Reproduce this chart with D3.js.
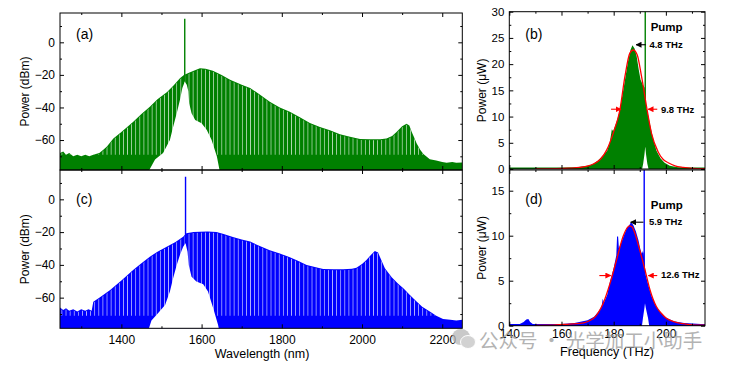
<!DOCTYPE html>
<html>
<head>
<meta charset="utf-8">
<script src="https://cdn.jsdelivr.net/npm/d3@7"></script>
<style>
body { margin: 0; background: #fff; }
text { font-family: "Liberation Sans", Arial, sans-serif; }
</style>
</head>
<body>
<script>
// ---- data ----
// (a) comb spectrum, upper envelope [wavelength nm, dBm]
var specA = [[1247,-68],[1255,-67],[1262,-69],[1270,-68],[1280,-70],[1290,-69],[1300,-70],[1310,-69],[1320,-70],[1330,-69],
  [1345,-68],[1355,-66],[1364,-64],[1380,-59],[1400,-55],[1429,-49],[1450,-44],[1471,-39.5],[1490,-35],[1514,-30.5],
  [1530,-26.5],[1546,-22],[1556,-20],[1570,-18.5],[1585,-17],[1596,-16],[1610,-16.3],[1628,-17.4],[1650,-20],[1671,-23],
  [1700,-26],[1721,-28],[1745,-32],[1770,-36.5],[1795,-40],[1820,-42.6],[1845,-46],[1870,-49.5],[1895,-52],[1920,-54],
  [1945,-56.5],[1970,-58],[1995,-59.3],[2020,-59.5],[2045,-59.5],[2061,-59],[2075,-57.5],[2086,-55],[2100,-51.5],[2111,-50],
  [2118,-51],[2124,-55],[2130,-58.5],[2136,-62],[2145,-66],[2153,-68.5],[2169,-71.8],[2185,-72.5],[2200,-73.5],[2211,-74],
  [2225,-73.5],[2235,-74],[2250,-73.8]];
// (a) lower edge of the comb near the pump (white region below it)
var holeA = [[1466,-80],[1484,-72],[1504,-68],[1521,-60],[1529,-52],[1538,-43.6],[1546,-35.4],[1552,-28],[1558,-24.2],
  [1563,-26],[1567,-30],[1569,-37.4],[1575,-43.6],[1584,-47.7],[1600,-49.7],[1613,-53.8],[1625,-60],[1638,-70],[1646,-80]];
var pumpA = [1558, -24, 14.5];

// (c)
var specC = [[1247,-66],[1255,-67.5],[1262,-66.5],[1270,-68],[1280,-67],[1290,-68.5],[1300,-67],[1310,-68],[1318,-67],[1326,-68],
  [1330,-62.5],[1345,-60],[1372,-55.3],[1400,-49.5],[1430,-43],[1450,-39],[1471,-35],[1490,-32],[1513,-29],[1535,-26],
  [1554,-22.8],[1562,-20.7],[1580,-20],[1596,-19.8],[1615,-19.6],[1637,-20],[1655,-21.2],[1678,-23],[1700,-24.5],[1721,-25.8],
  [1745,-28.5],[1770,-31],[1795,-33],[1820,-35.4],[1840,-37.5],[1862,-40],[1885,-41.5],[1903,-42.5],[1930,-42.7],[1953,-42.7],
  [1975,-42.3],[1986,-41.7],[2000,-39.5],[2011,-37],[2022,-34],[2032,-31.5],[2040,-32.5],[2045,-35.4],[2057,-42],[2074,-47.6],
  [2090,-51.5],[2103,-54.3],[2120,-58.5],[2136,-62.4],[2150,-65.5],[2169,-68.5],[2185,-71],[2202,-73],[2220,-73.5],[2235,-74],
  [2250,-73.5]];
var holeC = [[1467,-80],[1475,-74],[1488,-70.5],[1509,-64.5],[1521,-56.3],[1529,-48.2],[1538,-40],[1546,-34],[1554,-29],
  [1560,-26.8],[1565,-32],[1568,-40],[1575,-47.2],[1587,-50.2],[1604,-51.8],[1616,-56.3],[1629,-66.5],[1641,-76.6],[1644,-80]];
var pumpC = [1560, -26.8, 13.8];

// (b) spectrum [THz, uW], fit curve, notch at pump
var specB = [[140,0.15],[150,0.15],[160,0.2],[165,0.3],[170,0.6],[172,0.9],[174,1.6],[176,2.6],[177.5,3.5],[178.5,5],
  [179.3,7.6],[179.8,7.2],[181,8.8],[182.3,11],[183.5,14.5],[184.5,17.5],[185.5,20.5],[186.5,22.8],[187.2,23.6],[188,23],
  [188.8,21.5],[189.6,19],[190.3,17],[191.2,16],[191.9,15.5],[192.3,12.3],[193,10.8],[193.9,8.6],[195,6],[196.4,3.5],
  [198,2],[199.5,1.2],[201.5,0.6],[205,0.3],[210,0.2],[215,0.15]];
var fitB = [[150,0.02],[158,0.06],[163,0.15],[167.1,0.3],[172.2,0.95],[175,1.9],[177.3,3.6],[179.8,6.8],[182.4,11.3],
  [184.3,17.6],[186.2,22.1],[187.5,22.7],[189,21.8],[190.7,17.6],[192.6,11.9],[194.5,6.8],[197,3.3],[199,1.8],[200.9,1.2],
  [203.5,0.6],[206.6,0.3],[210,0.12],[215,0.05]];
var holeB = [[190.5,-1],[191.3,1],[191.8,2.8],[192.1,4.3],[192.4,2.8],[192.9,1],[193.8,-1]];
var pumpB = [192.1, 4.3, 31];

// (d)
var specD = [[140,0.15],[144,0.2],[145.5,0.4],[146.5,0.7],[147.3,0.75],[148,0.4],[149,0.2],[155,0.15],[160,0.2],[165,0.3],
  [170,0.6],[172.5,1],[174.5,1.7],[175.4,2.2],[175.8,3],[176.3,2.6],[177.5,3.4],[178.6,4.9],[180,6.4],[181,7.8],[181.3,9.9],
  [181.7,9.9],[182,8.6],[183,9.3],[184,10.1],[185,10.8],[186,11.2],[186.7,11.5],[187.5,11.2],[188.5,10.5],[189.5,9.5],
  [190.3,8.4],[190.8,8],[191.2,8.3],[191.5,8],[192.3,5.6],[193.3,4.5],[194.5,3.3],[196,2.3],[198,1.4],[200,0.9],[203,0.5],
  [207,0.3],[215,0.15]];
var fitD = [[150,0.03],[158,0.08],[163,0.18],[167.1,0.25],[172.2,0.8],[174,1.4],[176,2.5],[178.6,4.7],[181.1,7.3],[183.6,9.9],
  [185,10.8],[186,11.1],[187,11],[188.1,10.3],[190,8.4],[192,6.2],[193.9,4],[196.4,2.1],[198.5,1.3],[200.3,0.8],[203,0.45],
  [206.6,0.22],[210,0.1],[215,0.05]];
var holeD = [[190.4,-1],[191.2,0.8],[191.8,2],[192,2.5],[192.3,2],[193.2,0.8],[194.1,-1]];
var pumpD = [191.7, 2.5, 18];

// ticks
var wlTicks = [1400,1600,1800,2000,2200], wlMinor = [1300,1500,1700,1900,2100];
var dbmTicks = [-60,-40,-20,0], dbmMinor = [-70,-50,-30,-10,10];
var thzTicks = [140,160,180,200], thzMinor = [150,170,190,210];
var uwTicksB = [0,5,10,15,20,25,30], uwMinorB = [2.5,7.5,12.5,17.5,22.5,27.5];
var uwTicksD = [0,5,10,15], uwMinorD = [2.5,7.5,12.5];

var width = 731, height = 371;
var svg = d3.select("body").append("svg")
    .attr("width", width)
    .attr("height", height);

var defs = svg.append("defs");
// thin white gaps between comb lines
var pat = defs.append("pattern")
    .attr("id", "stripes")
    .attr("patternUnits", "userSpaceOnUse")
    .attr("width", 4.1).attr("height", 20);
pat.append("rect").attr("x", 0).attr("y", 0).attr("width", 0.8).attr("height", 20)
    .attr("fill", "#fff").attr("opacity", 0.7);

function marker(id, color) {
    defs.append("marker")
        .attr("id", id)
        .attr("viewBox", "0 0 10 10")
        .attr("refX", 9).attr("refY", 5)
        .attr("markerWidth", 6).attr("markerHeight", 6)
        .attr("markerUnits", "userSpaceOnUse")
        .attr("orient", "auto")
      .append("path").attr("d", "M0,0L10,5L0,10z").attr("fill", color);
}
marker("headK", "#000");
marker("headR", "#f00");

// scales
var xWl = d3.scaleLinear().domain([1247, 2250]).range([60, 462.3]);
var yA = d3.scaleLinear().domain([-78.4, 18]).range([170, 13]);
var yC = d3.scaleLinear().domain([-78.7, 17.9]).range([328.3, 170]);
var xF = d3.scaleLinear().domain([140, 215]).range([509.3, 705]);
var yB = d3.scaleLinear().domain([0, 30]).range([169, 11.7]);
var yD = d3.scaleLinear().domain([0, 17.3]).range([325.7, 170]);

var clipN = 0;

function panel(o) {
    var x = o.x, y = o.y;
    var x0 = x.range()[0], x1 = x.range()[1], yb = y.range()[0], yt = y.range()[1];
    var id = "clip" + (clipN++);
    defs.append("clipPath").attr("id", id)
      .append("rect").attr("x", x0).attr("y", yt).attr("width", x1 - x0).attr("height", yb - yt);
    var g = svg.append("g").attr("clip-path", "url(#" + id + ")");

    // spectrum fill
    g.append("path").datum(o.spec)
        .attr("d", d3.area().x(function(d){ return x(d[0]); }).y0(yb + 2).y1(function(d){ return y(d[1]); }))
        .attr("fill", o.color);
    // baseline of the trace
    if (o.baseline) {
        g.append("line").attr("x1", x0).attr("x2", x1).attr("y1", yb - 0.8).attr("y2", yb - 0.8)
            .attr("stroke", o.color).attr("stroke-width", 1.6);
    }
    // comb line texture
    if (o.stripeLow != null) {
        g.append("path").datum(o.spec)
            .attr("d", d3.area().x(function(d){ return x(d[0]); })
                .y0(y(o.stripeLow)).y1(function(d){ return Math.min(y(d[1]) + 1, y(o.stripeLow)); }))
            .attr("fill", "url(#stripes)");
    }
    // white region under the comb near the pump
    g.append("path").datum(o.hole)
        .attr("d", d3.area().x(function(d){ return x(d[0]); }).y0(yb + 2).y1(function(d){ return y(d[1]); }))
        .attr("fill", "#fff");
    // pump line
    g.append("line")
        .attr("x1", x(o.pump[0])).attr("x2", x(o.pump[0]))
        .attr("y1", y(o.pump[1])).attr("y2", y(o.pump[2]))
        .attr("stroke", o.color).attr("stroke-width", 1.4);
    // fit
    if (o.fit) {
        g.append("path").datum(o.fit)
            .attr("d", d3.line().x(function(d){ return x(d[0]); }).y(function(d){ return y(d[1]); }).curve(d3.curveMonotoneX))
            .attr("fill", "none").attr("stroke", "#f00").attr("stroke-width", 1.3);
    }

    // axes (ticks inward on all four sides)
    function ax(fn, pos, vals, size, labels, fs) {
        var a = fn(fn === d3.axisLeft || fn === d3.axisRight ? y : x)
            .tickValues(vals).tickSizeInner(-size).tickSizeOuter(0).tickPadding(5);
        a.tickFormat(labels ? d3.format("d") : "");
        var ga = svg.append("g").attr("transform", pos).call(a);
        ga.select(".domain").remove();
        ga.selectAll("line").attr("stroke", "#000").attr("stroke-width", 1);
        ga.selectAll("text").attr("font-size", fs || 12).attr("fill", "#000")
            .style("font-family", "'Liberation Sans', Arial, sans-serif");
        return ga;
    }
    ax(d3.axisLeft, "translate(" + x0 + ",0)", o.yTicks, 4, true, o.yFs);
    ax(d3.axisLeft, "translate(" + x0 + ",0)", o.yMinor, 2, false);
    ax(d3.axisRight, "translate(" + x1 + ",0)", o.yTicks, 4, false);
    ax(d3.axisRight, "translate(" + x1 + ",0)", o.yMinor, 2, false);
    var gb = ax(d3.axisBottom, "translate(0," + yb + ")", o.xTicks, 4, o.xLabels, 12);
    if (o.xLabels) gb.selectAll("text").attr("dy", o.xDy);
    ax(d3.axisBottom, "translate(0," + yb + ")", o.xMinor, 2, false);
    ax(d3.axisTop, "translate(0," + yt + ")", o.xTicks, 4, false);
    ax(d3.axisTop, "translate(0," + yt + ")", o.xMinor, 2, false);

    svg.append("rect").attr("x", x0).attr("y", yt).attr("width", x1 - x0).attr("height", yb - yt)
        .attr("fill", "none").attr("stroke", "#000").attr("stroke-width", 1);

    svg.append("text").attr("x", x0 + 16).attr("y", yt + o.labelDy)
        .attr("font-size", 14).text(o.label);

    // y title
    svg.append("text")
        .attr("transform", "translate(" + o.titleX + "," + (yt + yb) / 2 + ") rotate(-90)")
        .attr("text-anchor", "middle").attr("font-size", 12)
        .text(o.yTitle);
    return g;
}

panel({ x: xWl, y: yA, spec: specA, hole: holeA, pump: pumpA, color: "#008000", stripeLow: -69,
    yTicks: dbmTicks, yMinor: dbmMinor, xTicks: wlTicks, xMinor: wlMinor, xLabels: false,
    label: "(a)", labelDy: 26, yTitle: "Power (dBm)", titleX: 29 });
panel({ x: xWl, y: yC, spec: specC, hole: holeC, pump: pumpC, color: "#0000ff", stripeLow: -71,
    yTicks: dbmTicks, yMinor: dbmMinor, xTicks: wlTicks, xMinor: wlMinor, xLabels: true, xDy: "0.9em",
    label: "(c)", labelDy: 34, yTitle: "Power (dBm)", titleX: 29 });
panel({ x: xF, y: yB, spec: specB, hole: holeB, pump: pumpB, color: "#008000", fit: fitB, baseline: true,
    yTicks: uwTicksB, yMinor: uwMinorB, xTicks: thzTicks, xMinor: thzMinor, xLabels: false, yFs: 11.5,
    label: "(b)", labelDy: 27, yTitle: "Power (\u03bcW)", titleX: 486 });
panel({ x: xF, y: yD, spec: specD, hole: holeD, pump: pumpD, color: "#0000ff", fit: fitD, baseline: true,
    yTicks: uwTicksD, yMinor: uwMinorD, xTicks: thzTicks, xMinor: thzMinor, xLabels: true, xDy: "0.6em", yFs: 11.5,
    label: "(d)", labelDy: 34, yTitle: "Power (\u03bcW)", titleX: 486 });

// x titles
svg.append("text").attr("x", 262).attr("y", 358).attr("text-anchor", "middle")
    .attr("font-size", 12.5).text("Wavelength (nm)");
svg.append("text").attr("x", 607).attr("y", 356).attr("text-anchor", "middle")
    .attr("font-size", 12.5).text("Frequency (THz)");

// annotations on (b) and (d)
function arrow(x1, y1, x2, y2, color, head) {
    svg.append("line").attr("x1", x1).attr("y1", y1).attr("x2", x2).attr("y2", y2)
        .attr("stroke", color).attr("stroke-width", 1.1).attr("marker-end", "url(#" + head + ")");
}
function note(x, y, txt, size, anchor) {
    svg.append("text").attr("x", x).attr("y", y).attr("font-size", size).attr("font-weight", "bold")
        .attr("text-anchor", anchor || "start").text(txt);
}
note(xF(200.3), yB(26.3), "Pump", 11.5, "middle");
arrow(xF(192.3), yB(23.7), xF(188.6), yB(23.7), "#000", "headK");
note(xF(193.7), yB(23.0), "4.8 THz", 9.5);
arrow(xF(179), yB(11.4), xF(182.8), yB(11.4), "#f00", "headR");
arrow(xF(196.7), yB(11.4), xF(193.2), yB(11.4), "#f00", "headR");
note(xF(198.1), yB(10.7), "9.8 THz", 9.5);

note(xF(194.2), yD(13.0), "Pump", 11.5);
arrow(xF(191.4), yD(11.5), xF(186.5), yD(11.5), "#000", "headK");
note(xF(193.5), yD(11.2), "5.9 THz", 9.5);
arrow(xF(174.5), yD(5.57), xF(178.9), yD(5.57), "#f00", "headR");
arrow(xF(196.7), yD(5.57), xF(193.3), yD(5.57), "#f00", "headR");
note(xF(198.1), yD(5.3), "12.6 THz", 9.5);

// watermark
var wm = svg.append("g").attr("opacity", 0.75);
wm.append("ellipse").attr("cx", 461).attr("cy", 337).attr("rx", 9).attr("ry", 8).attr("fill", "#b8b8b8");
wm.append("ellipse").attr("cx", 468).attr("cy", 342).attr("rx", 7.5).attr("ry", 6.5)
    .attr("fill", "#c4c4c4").attr("stroke", "#fff").attr("stroke-width", 1);
wm.append("text").attr("x", 479).attr("y", 348).attr("font-size", 19.5).attr("fill", "#9a9a9a")
    .style("font-family", "'Noto Sans CJK SC', sans-serif")
    .text("\u516c\u4f17\u53f7 \u00b7 \u5149\u5b66\u52a0\u5de5\u5c0f\u52a9\u624b");
</script>
</body>
</html>
